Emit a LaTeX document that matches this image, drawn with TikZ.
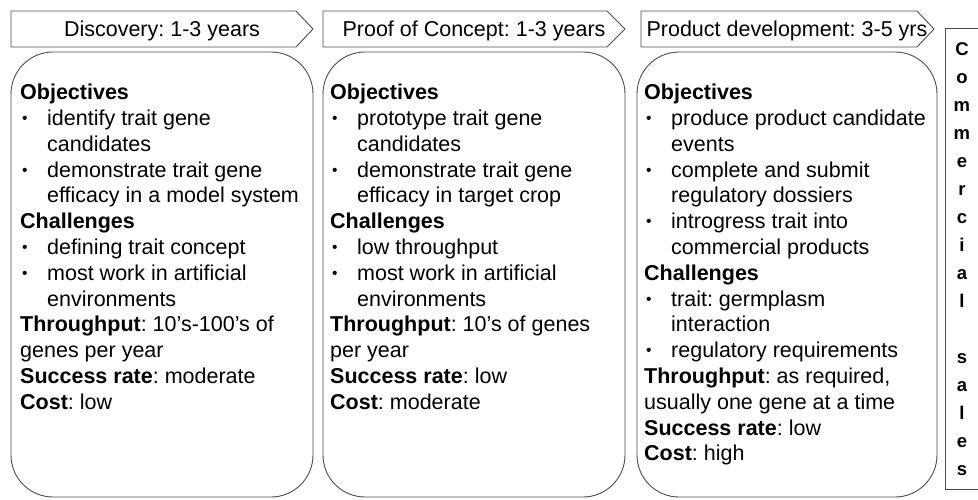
\documentclass[tikz,border=0pt]{standalone}
\usepackage{fontspec}
\setmainfont{Liberation Sans}
\frenchspacing

\definecolor{edge}{gray}{0.3}

% bullet line and its continuation
\newcommand{\itm}[1]{\makebox[27pt][l]{\hspace*{2pt}\raisebox{2pt}{\fontsize{15.5}{15.5}\selectfont\textbullet}}#1}
\newcommand{\cont}[1]{\hspace*{27pt}#1}

\tikzset{
  stagehead/.style={draw=edge, line width=0.9pt},
  stagebox/.style={draw=edge, line width=0.9pt, rounded corners=42pt},
  headtext/.style={anchor=base, inner sep=0pt, font=\fontsize{21.5}{25.8}\selectfont},
  stagetext/.style={anchor=north west, inner sep=0pt, align=left, font=\fontsize{21.5}{25.8}\selectfont},
}

\begin{document}
\begin{tikzpicture}[x=1pt,y=-1pt]

\useasboundingbox (0,0) rectangle (978,499);

% the three stage arrows
\draw[stagehead] (11,11) -- (296,11) -- (313,29) -- (296,47) -- (11,47) -- cycle;
\draw[stagehead] (323,11) -- (607,11) -- (625,29) -- (607,47) -- (323,47) -- cycle;
\draw[stagehead] (641,11) -- (917,11) -- (934,29) -- (917,47) -- (641,47) -- cycle;

\node[headtext] (disc) at (162,36) {Discovery: 1-3 years};
\node[headtext] (poc) at (474,36) {Proof of Concept: 1-3 years};
\node[headtext] (prod) at (787,36) {Product development: 3-5 yrs};

% rounded boxes below each stage
\draw[stagebox] (11,52) rectangle (313,497);
\draw[stagebox] (323,52) rectangle (625,497);
\draw[stagebox] (637,52) rectangle (937,497);

\node[stagetext] (disc-text) at (20,84) {%
\textbf{Objectives}\\
\itm{identify trait gene}\\
\cont{candidates}\\
\itm{demonstrate trait gene}\\
\cont{efficacy in a model system}\\
\textbf{Challenges}\\
\itm{defining trait concept}\\
\itm{most work in artificial}\\
\cont{environments}\\
\textbf{Throughput}: 10’s-100’s of\\
genes per year\\
\textbf{Success rate}: moderate\\
\textbf{Cost}: low};

\node[stagetext] (poc-text) at (330,84) {%
\textbf{Objectives}\\
\itm{prototype trait gene}\\
\cont{candidates}\\
\itm{demonstrate trait gene}\\
\cont{efficacy in target crop}\\
\textbf{Challenges}\\
\itm{low throughput}\\
\itm{most work in artificial}\\
\cont{environments}\\
\textbf{Throughput}: 10’s of genes\\
per year\\
\textbf{Success rate}: low\\
\textbf{Cost}: moderate};

\node[stagetext] (prod-text) at (644,84) {%
\textbf{Objectives}\\
\itm{produce product candidate}\\
\cont{events}\\
\itm{complete and submit}\\
\cont{regulatory dossiers}\\
\itm{introgress trait into}\\
\cont{commercial products}\\
\textbf{Challenges}\\
\itm{trait: germplasm}\\
\cont{interaction}\\
\itm{regulatory requirements}\\
\textbf{Throughput}: as required,\\
usually one gene at a time\\
\textbf{Success rate}: low\\
\textbf{Cost}: high};

% last stage, written downwards
\node[draw=edge, line width=0.9pt, anchor=north west, minimum width=33pt, minimum height=461pt,
      inner sep=0pt, align=center, font=\fontsize{18.5}{28}\selectfont\bfseries] (sales) at (945,28)
  {C\\o\\m\\m\\e\\r\\c\\i\\a\\l\\\mbox{}\\s\\a\\l\\e\\s};

\end{tikzpicture}
\end{document}
